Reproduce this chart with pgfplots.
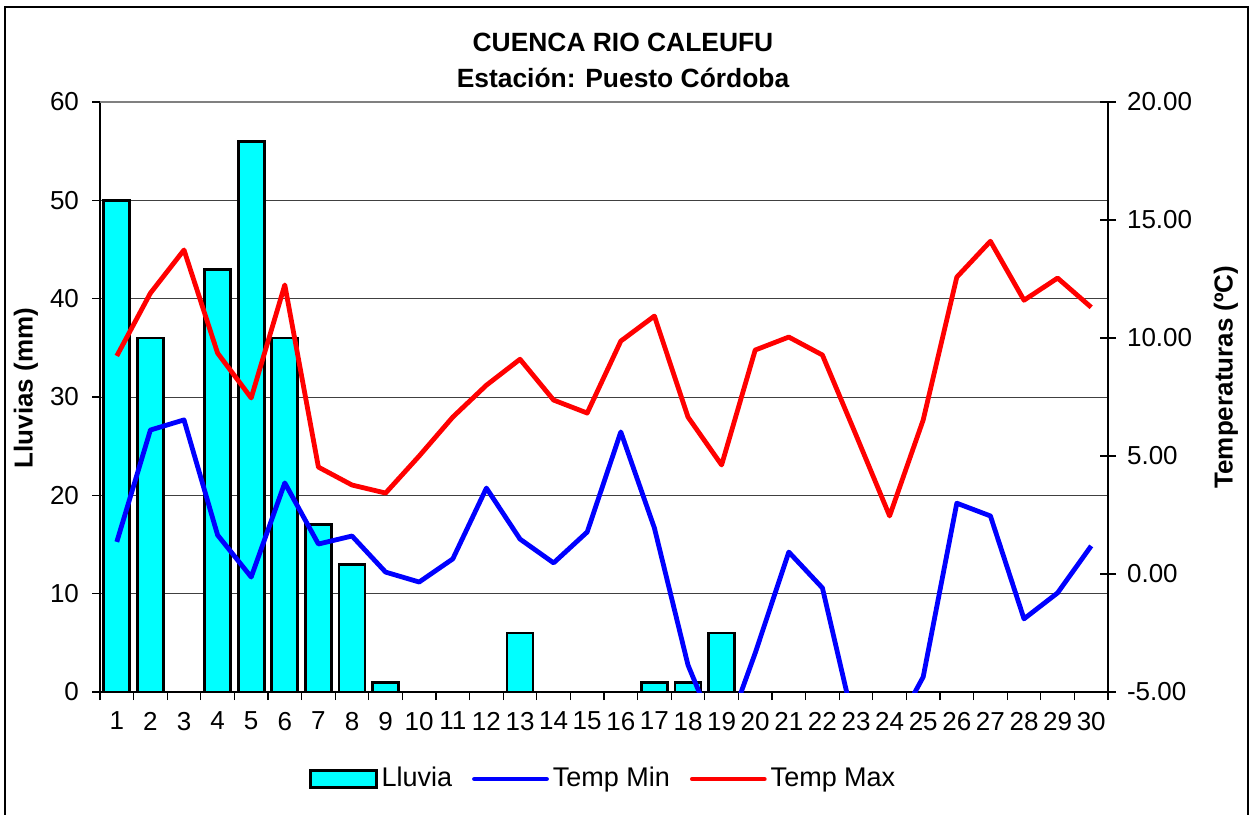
\documentclass[border=0pt]{standalone}
\usepackage{fontspec}
\setmainfont{Liberation Sans}
\usepackage{pgfplots}
\pgfplotsset{compat=1.18}
\definecolor{cyanbar}{RGB}{0,255,255}
\definecolor{tmin}{RGB}{0,0,255}
\definecolor{tmax}{RGB}{255,0,0}
\definecolor{bordergray}{RGB}{128,128,128}
\begin{document}
\fontsize{13}{15.6}\selectfont
\begin{tikzpicture}
\useasboundingbox (0,0) rectangle (626pt,407pt);
\draw[black, line width=0.8pt] (2.5pt,-3pt) -- (2.5pt,403.5pt) -- (624pt,403.5pt) -- (624pt,-3pt);
\begin{axis}[
  at={(50pt,61pt)}, anchor=south west, scale only axis,
  width=504pt, height=295pt,
  xmin=0.5, xmax=30.5, ymin=0, ymax=60,
  axis x line*=bottom, axis y line*=left,
  axis line style={black, line width=0.8pt},
  xtick={1,...,30},
  minor xtick={0.5,1.5,...,30.5},
  ytick={0,10,...,60},
  minor ytick={0,10,...,60},
  tick align=outside,
  major tick length=4pt, minor tick length=4pt,
  major tick style={draw=none},
  minor tick style={draw=black, line width=0.6pt},
  ymajorgrids,
  major grid style={black!75, line width=0.5pt},
  /pgf/number format/assume math mode=true,
  tick label style={font=\fontsize{13}{15.6}\selectfont},
  xticklabel style={yshift=-1.5pt},
  yticklabel style={xshift=-2pt},
  after end axis/.code={\draw[bordergray, line width=1.2pt] (rel axis cs:0,1) -- (rel axis cs:1,1);},
]
\addplot[ybar, bar width=0.77, fill=cyanbar, draw=black, line width=1.4pt] coordinates {
(1,50) (2,36) (3,0) (4,43) (5,56) (6,36) (7,17) (8,13) (9,1) (10,0)
(11,0) (12,0) (13,6) (14,0) (15,0) (16,0) (17,1) (18,1) (19,6) (20,0)
(21,0) (22,0) (23,0) (24,0) (25,0) (26,0) (27,0) (28,0) (29,0) (30,0)};
\end{axis}
\begin{axis}[
  at={(50pt,61pt)}, anchor=south west, scale only axis,
  width=504pt, height=295pt,
  xmin=0.5, xmax=30.5, ymin=-5, ymax=20,
  axis x line=none, axis y line*=right,
  axis line style={black, line width=0.8pt},
  ytick={-5,0,...,20},
  tick align=center, major tick length=8pt,
  major tick style={black, line width=0.6pt},
  /pgf/number format/fixed,
  /pgf/number format/fixed zerofill,
  /pgf/number format/precision=2,
  /pgf/number format/assume math mode=true,
  tick label style={font=\fontsize{13}{15.6}\selectfont},
  yticklabel style={xshift=1pt},
  legend image code/.code={\draw[#1, line cap=round] (0pt,0pt) -- (36pt,0pt);},
  legend style={draw=none, fill=none, at={(0.5,-0.1475)}, anchor=center,
    legend columns=3, font=\fontsize{13.5}{16}\selectfont,
    /tikz/every even column/.append style={column sep=8pt},
    nodes={inner sep=2pt}},
]
\addlegendimage{legend image code/.code={\draw[fill=cyanbar, draw=black, line width=1.4pt] (0pt,-4.25pt) rectangle (33pt,4.25pt);}}
\addlegendentry{Lluvia}
\addplot[tmin, line width=2.4pt, line join=round] coordinates {
(1,1.36) (2,6.10) (3,6.53) (4,1.65) (5,-0.13) (6,3.86) (7,1.27) (8,1.61) (9,0.08) (10,-0.34)
(11,0.64) (12,3.64) (13,1.48) (14,0.47) (15,1.78) (16,6.02) (17,1.95) (18,-3.86) (19,-7.3) (20,-3.35)
(21,0.93) (22,-0.59) (23,-6.7) (24,-7.0) (25,-4.36) (26,3.0) (27,2.46) (28,-1.9) (29,-0.8) (30,1.19)};
\addlegendentry{Temp Min}
\addplot[tmax, line width=2.4pt, line join=round] coordinates {
(1,9.24) (2,11.9) (3,13.73) (4,9.36) (5,7.46) (6,12.25) (7,4.53) (8,3.77) (9,3.43) (10,5.0)
(11,6.65) (12,8.0) (13,9.1) (14,7.37) (15,6.82) (16,9.87) (17,10.93) (18,6.65) (19,4.62) (20,9.49)
(21,10.04) (22,9.28) (23,5.89) (24,2.46) (25,6.53) (26,12.58) (27,14.1) (28,11.6) (29,12.54) (30,11.3)};
\addlegendentry{Temp Max}
\end{axis}
\node[anchor=base, font=\bfseries\fontsize{13.2}{15.6}\selectfont] at (311.5pt,381pt) {CUENCA RIO CALEUFU};
\node[anchor=base, font=\bfseries\fontsize{13.2}{15.6}\selectfont] at (311.5pt,363pt) {Estación: Puesto Córdoba};
\node[rotate=90, font=\bfseries\fontsize{13}{15.6}\selectfont] at (13pt,213pt) {Lluvias (mm)};
\node[rotate=90, font=\bfseries\fontsize{13}{15.6}\selectfont] at (613pt,218.5pt) {Temperaturas (ºC)};
\end{tikzpicture}
\end{document}
